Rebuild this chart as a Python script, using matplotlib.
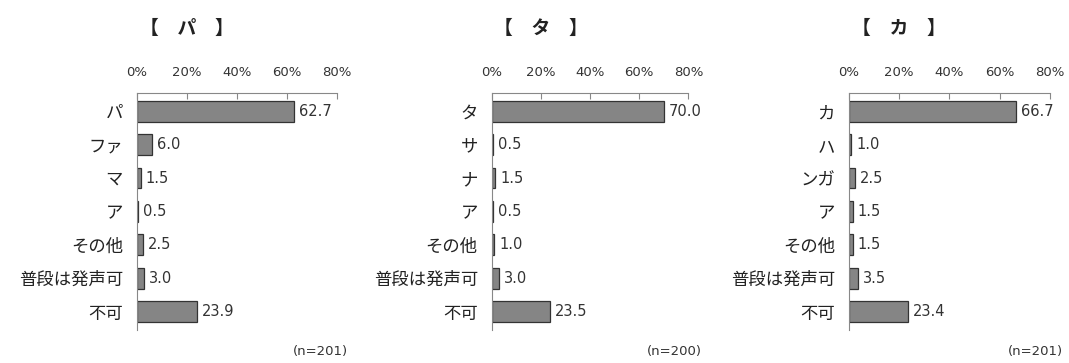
import numpy as np
import matplotlib.pyplot as plt

plt.rcParams['font.family'] = ['Noto Sans CJK JP', 'DejaVu Sans']

# data
titles = ['【　パ　】', '【　タ　】', '【　カ　】']
counts = ['(n=201)', '(n=200)', '(n=201)']

labels_pa = ['パ', 'ファ', 'マ', 'ア', 'その他', '普段は発声可', '不可']
values_pa = [62.7, 6.0, 1.5, 0.5, 2.5, 3.0, 23.9]

labels_ta = ['タ', 'サ', 'ナ', 'ア', 'その他', '普段は発声可', '不可']
values_ta = [70.0, 0.5, 1.5, 0.5, 1.0, 3.0, 23.5]

labels_ka = ['カ', 'ハ', 'ンガ', 'ア', 'その他', '普段は発声可', '不可']
values_ka = [66.7, 1.0, 2.5, 1.5, 1.5, 3.5, 23.4]

xticks = [0, 20, 40, 60, 80]
xticklabels = ['0%', '20%', '40%', '60%', '80%']

panels = [(labels_pa, values_pa), (labels_ta, values_ta), (labels_ka, values_ka)]
positions = [[0.128, 0.091, 0.187, 0.653],
             [0.460, 0.091, 0.184, 0.653],
             [0.794, 0.091, 0.188, 0.653]]
count_x = [0.92, 0.93, 0.93]

fig = plt.figure(figsize=(10.69, 3.63), dpi=100)

for i in range(3):
    labels, values = panels[i]
    ax = fig.add_axes(positions[i])
    y = np.arange(len(labels))
    ax.barh(y, values, height=0.62, color='#858585', edgecolor='#333333', linewidth=0.9)
    for yy, v in zip(y, values):
        ax.text(v + 2.0, yy, f'{v:.1f}', va='center', ha='left', fontsize=10.5,
                family='DejaVu Sans', color='#333333')
    ax.set_xlim(0, 80)
    ax.set_ylim(len(labels) - 0.45, -0.55)
    ax.set_yticks(y)
    ax.set_yticklabels(labels, fontsize=12.5, color='#222222')
    ax.tick_params(axis='y', length=0, pad=10)
    ax.xaxis.tick_top()
    ax.set_xticks(xticks)
    ax.set_xticklabels(xticklabels, fontsize=9.5, family='DejaVu Sans', color='#333333')
    ax.tick_params(axis='x', direction='in', length=4, pad=10, color='#888888')
    ax.spines['right'].set_visible(False)
    ax.spines['bottom'].set_visible(False)
    ax.spines['left'].set_color('#888888')
    ax.spines['top'].set_color('#888888')
    ax.text(0.25, 1.274, titles[i], transform=ax.transAxes, ha='center', va='center',
            fontsize=13.5, fontweight='bold', color='#222222')
    ax.text(count_x[i], -0.09, counts[i], transform=ax.transAxes, ha='center', va='center',
            fontsize=9.5, family='DejaVu Sans', color='#333333')

plt.savefig('out.png', dpi=100)
